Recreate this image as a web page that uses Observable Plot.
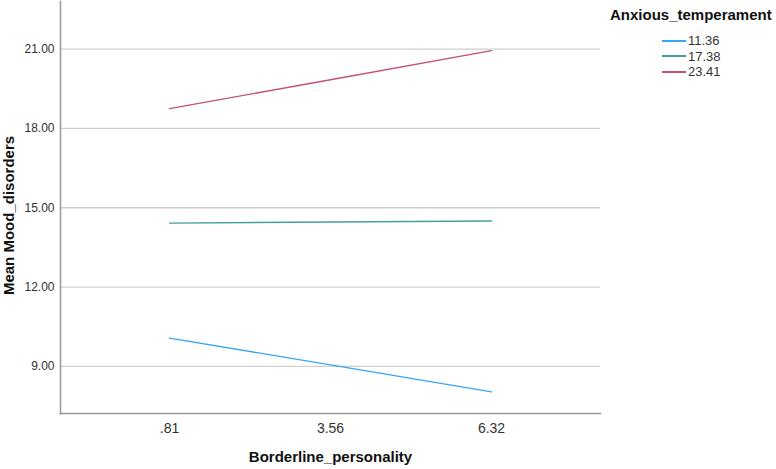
<!DOCTYPE html>
<html><head><meta charset="utf-8">
<script src="https://cdn.jsdelivr.net/npm/d3@7"></script>
<script src="https://cdn.jsdelivr.net/npm/@observablehq/plot@0.6"></script>
<style>
body{margin:0;background:#fff;font-family:"Liberation Sans",Arial,sans-serif}
#wrap{position:relative;width:776px;height:469px}
#legend{position:absolute;left:610px;top:6px}
#legend .title{font-weight:bold;font-size:15px;color:#111}
#legend .row{position:absolute;left:52px;height:15px;display:flex;align-items:center;font-size:13px;color:#333;white-space:nowrap}
#legend .sw{width:24px;height:2px;margin-right:2px}
</style>
</head><body><div id="wrap"></div>
<script>
const xCategories = [".81", "3.56", "6.32"];
const seriesNames = ["11.36", "17.38", "23.41"];
const values_11_36 = [10.07, 9.06, 8.04];
const values_17_38 = [14.42, 14.46, 14.50];
const values_23_41 = [18.75, 19.84, 20.94];
const seriesColors = ["#3AA5F2", "#44A09C", "#C2517C"];
const yTicks = [9, 12, 15, 18, 21];
const xTitle = "Borderline_personality";
const yTitle = "Mean Mood_disorders";
const legendTitle = "Anxious_temperament";

const allValues = [values_11_36, values_17_38, values_23_41];
const data = [];
seriesNames.forEach((s, i) => xCategories.forEach((c, j) => data.push({series: s, x: c, y: allValues[i][j]})));

const chart = Plot.plot({
  width: 776, height: 469,
  marginLeft: 60, marginRight: 176, marginTop: 1, marginBottom: 56,
  style: {fontFamily: '"Liberation Sans", Arial, sans-serif', background: "#fff"},
  x: {type: "point", domain: xCategories, padding: 0.667},
  y: {domain: [7.22, 22.8]},
  color: {domain: seriesNames, range: seriesColors},
  marks: [
    Plot.gridY(yTicks, {stroke: "#cfcfcf", strokeOpacity: 1, strokeWidth: 1.3}),
    Plot.frame({anchor: "left", stroke: "#999", strokeWidth: 1.5}),
    Plot.frame({anchor: "bottom", stroke: "#999", strokeWidth: 1.5}),
    Plot.axisY(yTicks, {tickSize: 0, tickPadding: 6, tickFormat: d3.format(".2f"), fontSize: 12, fill: "#333", label: null}),
    Plot.axisX({tickSize: 0, tickPadding: 10, fontSize: 14, fill: "#333", label: null}),
    Plot.lineY(data, {x: "x", y: "y", z: "series", stroke: "series", strokeWidth: 1.4}),
    Plot.text([xTitle], {frameAnchor: "bottom", dy: 48, fontSize: 15, fontWeight: "bold", fill: "#111"}),
    Plot.text([yTitle], {frameAnchor: "left", textAnchor: "middle", dx: -51, dy: 8, rotate: -90, fontSize: 15, fontWeight: "bold", fill: "#111"})
  ]
});
const wrap = document.getElementById("wrap");
wrap.appendChild(chart);

const legend = document.createElement("div");
legend.id = "legend";
let html = `<div class="title">${legendTitle}</div>`;
seriesNames.forEach((s, i) => {
  html += `<div class="row" style="top:${27 + i * 15.5}px"><span class="sw" style="background:${seriesColors[i]}"></span>${s}</div>`;
});
legend.innerHTML = html;
wrap.appendChild(legend);
</script>
</body></html>
